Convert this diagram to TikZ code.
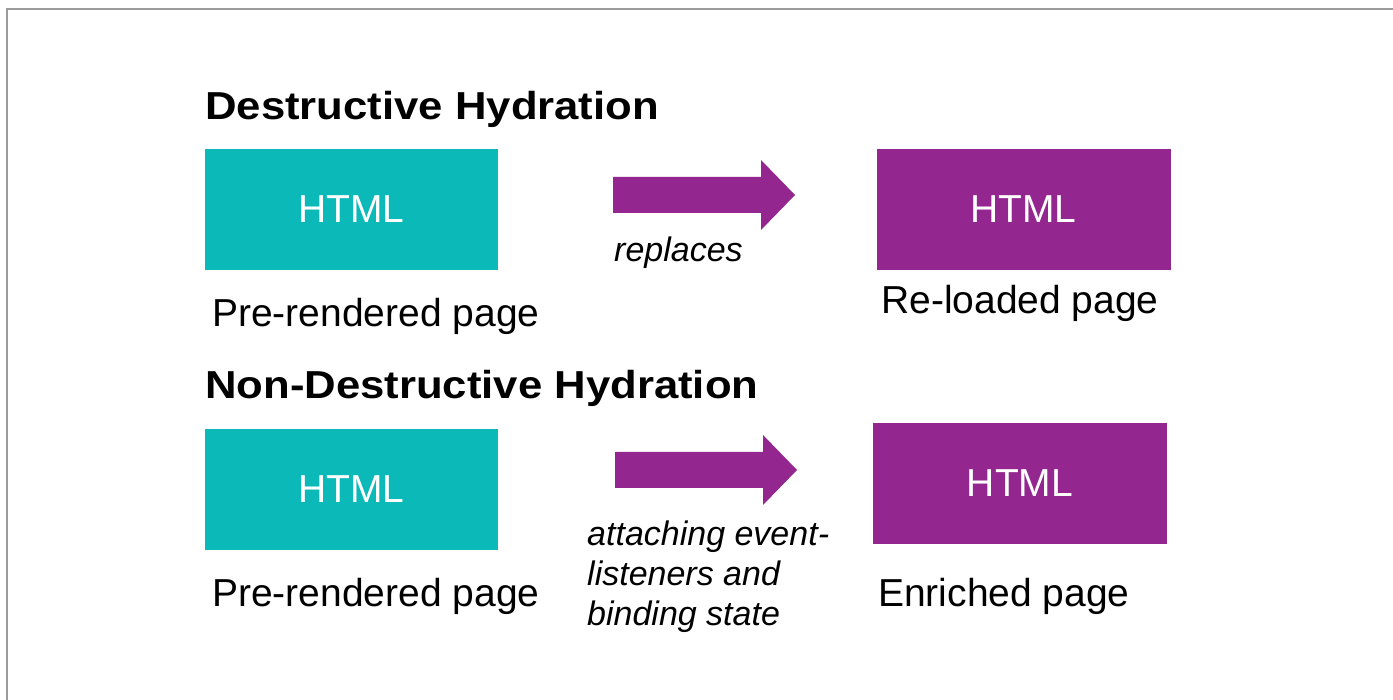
\documentclass[tikz,border=0pt]{standalone}
\usepackage{fontspec}
\setmainfont{Liberation Sans}
\usepackage{graphicx}
\definecolor{tealbox}{RGB}{12,185,185}
\definecolor{purplebox}{RGB}{147,38,143}
\definecolor{framegray}{RGB}{155,155,155}
\newcommand\fatarrow[1]{\fill[purplebox] (#1) ++(0,-18) -- ++(148,0) -- ++(0,-17) -- ++(34,35) -- ++(-34,35) -- ++(0,-17) -- ++(-148,0) -- cycle;}
\newcommand\boxtext{\raisebox{-2pt}{HTML}}
\tikzset{
  htmlbox/.style={rectangle, inner sep=0pt, minimum height=121pt, text=white, font=\fontsize{39}{45}\selectfont},
  tealfill/.style={htmlbox, fill=tealbox, minimum width=293pt},
  purplefill/.style={htmlbox, fill=purplebox, minimum width=294pt},
  title/.style={anchor=base west, inner sep=0pt, font=\fontsize{39}{45}\selectfont\bfseries},
  caption/.style={anchor=base west, inner sep=0pt, font=\fontsize{39}{45}\selectfont},
  verb/.style={anchor=base west, inner sep=0pt, font=\fontsize{34}{40}\selectfont\itshape}
}
\begin{document}
\begin{tikzpicture}[x=1pt,y=-1pt]
\useasboundingbox (0,0) rectangle (1393,700);
\fill[white] (0,0) rectangle (1393,700);
% frame (top and left edges)
\draw[framegray, line width=2pt] (6.5,700) -- (6.5,9.5) -- (1393,9.5);

% Destructive hydration
\node[title] (t1) at (205,120) {\scalebox{1.12}[1]{Destructive Hydration}};
\node[tealfill] (pre1) at (351.5,209.5) {\boxtext};
\node[purplefill] (rel) at (1023.5,209.5) {\boxtext};
\node[caption] (pre1c) at (212,327) {Pre-rendered page};
\node[caption] (relc) at (881,314) {Re-loaded page};
\coordinate (a1) at (613,195);
\fatarrow{a1}
\node[verb] (rep) at (614,262) {replaces};

% Non-destructive hydration
\node[title] (t2) at (205,399) {\scalebox{1.12}[1]{Non-Destructive Hydration}};
\node[tealfill] (pre2) at (351.5,489.5) {\boxtext};
\node[purplefill] (enr) at (1020,483.5) {\boxtext};
\node[caption] (pre2c) at (212,606) {Pre-rendered page};
\node[caption] (enrc) at (878,606) {Enriched page};
\coordinate (a2) at (615,470);
\fatarrow{a2}
\node[verb] (att1) at (587,545) {attaching event-};
\node[verb] (att2) at (587,585) {listeners and};
\node[verb] (att3) at (587,625) {binding state};
\end{tikzpicture}
\end{document}
